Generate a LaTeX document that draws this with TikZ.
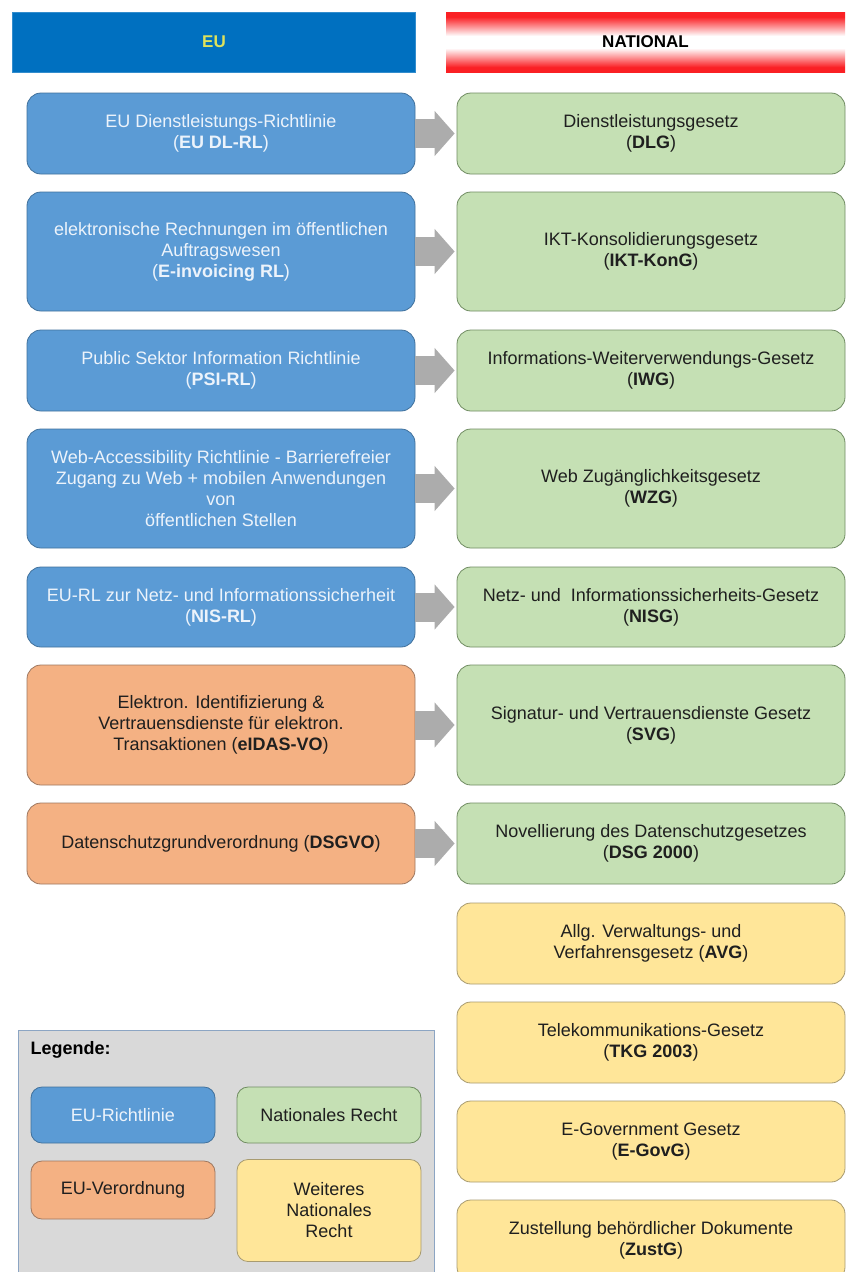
\documentclass[tikz,border=0pt]{standalone}
\usepackage{fontspec}
\setmainfont{Liberation Sans}
\usetikzlibrary{arrows.meta}

\definecolor{eublue}{RGB}{0,112,192}
\definecolor{eutext}{RGB}{222,226,92}
\definecolor{natred}{RGB}{250,32,36}
\definecolor{rlblue}{RGB}{91,155,213}
\definecolor{rlborder}{RGB}{65,113,156}
\definecolor{rltext}{RGB}{236,243,251}
\definecolor{natgreen}{RGB}{197,224,180}
\definecolor{natborder}{RGB}{112,140,98}
\definecolor{voorange}{RGB}{244,177,131}
\definecolor{voborder}{RGB}{158,120,96}
\definecolor{weityellow}{RGB}{255,230,153}
\definecolor{weitborder}{RGB}{168,155,112}
\definecolor{legendgray}{RGB}{217,217,217}
\definecolor{legendborder}{RGB}{140,165,195}

% red-white-red band for the national header
\pgfdeclareverticalshading{redwhitered}{100bp}{color(0bp)=(natred); color(29bp)=(natred);
  color(45bp)=(white); color(55bp)=(white); color(71bp)=(natred); color(100bp)=(natred)}

\tikzset{
  box/.style={rectangle, rounded corners=14pt, minimum width=388pt, align=center,
    font=\fontsize{18}{21}\selectfont, line width=0.8pt, text=black!88},
  richtlinie/.style={box, fill=rlblue, draw=rlborder, text=rltext},
  verordnung/.style={box, fill=voorange, draw=voborder},
  national/.style={box, fill=natgreen, draw=natborder},
  weiteres/.style={box, fill=weityellow, draw=weitborder},
  legbox/.style={rounded corners=11pt, minimum width=184pt, line width=0.8pt},
  head/.style={rectangle, minimum height=60pt, font=\bfseries\fontsize{17}{20}\selectfont},
  flowarrow/.style={line width=29pt, draw=gray!65, -{Triangle[width=44pt,length=20pt]}, shorten >=2pt},
}

\begin{document}
\begin{tikzpicture}[x=1pt,y=-1pt]
    % Page frame
    \useasboundingbox (0,0) rectangle (851,1272);
    \clip (0,0) rectangle (851,1272);
    \fill[white] (0,0) rectangle (851,1272);

    % Column headers
    \node[head, fill=eublue, draw=eublue!80!white, minimum width=403pt, text=eutext] (euhead) at (214,42) {EU};
    \node[head, shading=redwhitered, minimum width=399pt] (nathead) at (645.5,42) {NATIONAL};

    % EU side
    \node[richtlinie, minimum height=81pt] (eu1) at (221,133.5) {EU Dienstleistungs-Richtlinie\\(\textbf{EU DL-RL})};
    \node[richtlinie, minimum height=119pt] (eu2) at (221,251.5) {elektronische Rechnungen im öffentlichen\\Auftragswesen\\(\textbf{E-invoicing RL})};
    \node[richtlinie, minimum height=81pt] (eu3) at (221,370.5) {Public Sektor Information Richtlinie\\(\textbf{PSI-RL})};
    \node[richtlinie, minimum height=119pt] (eu4) at (221,488.5) {Web-Accessibility Richtlinie - Barrierefreier\\Zugang zu Web + mobilen Anwendungen\\von\\öffentlichen Stellen};
    \node[richtlinie, minimum height=80pt] (eu5) at (221,607) {EU-RL zur Netz- und Informationssicherheit\\(\textbf{NIS-RL})};
    \node[verordnung, minimum height=120pt] (eu6) at (221,725) {Elektron. Identifizierung \&\\Vertrauensdienste für elektron.\\Transaktionen (\textbf{eIDAS-VO})};
    \node[verordnung, minimum height=81pt] (eu7) at (221,843.5) {Datenschutzgrundverordnung (\textbf{DSGVO})};

    % National side
    \node[national, minimum height=81pt] (nat1) at (651,133.5) {Dienstleistungsgesetz\\(\textbf{DLG})};
    \node[national, minimum height=119pt] (nat2) at (651,251.5) {IKT-Konsolidierungsgesetz\\(\textbf{IKT-KonG})};
    \node[national, minimum height=81pt] (nat3) at (651,370.5) {Informations-Weiterverwendungs-Gesetz\\(\textbf{IWG})};
    \node[national, minimum height=119pt] (nat4) at (651,488.5) {Web Zugänglichkeitsgesetz\\(\textbf{WZG})};
    \node[national, minimum height=80pt] (nat5) at (651,607) {Netz- und\ \ Informationssicherheits-Gesetz\\(\textbf{NISG})};
    \node[national, minimum height=120pt] (nat6) at (651,725) {Signatur- und Vertrauensdienste Gesetz\\(\textbf{SVG})};
    \node[national, minimum height=81pt] (nat7) at (651,843.5) {Novellierung des Datenschutzgesetzes\\(\textbf{DSG 2000})};

    % Further national law
    \node[weiteres, minimum height=81pt] (avg) at (651,943.5) {Allg. Verwaltungs- und\\Verfahrensgesetz (\textbf{AVG})};
    \node[weiteres, minimum height=81pt] (tkg) at (651,1042.5) {Telekommunikations-Gesetz\\(\textbf{TKG 2003})};
    \node[weiteres, minimum height=81pt] (egovg) at (651,1141.5) {E-Government Gesetz\\(\textbf{E-GovG})};
    \node[weiteres, minimum height=81pt] (zustg) at (651,1240.5) {Zustellung behördlicher Dokumente\\(\textbf{ZustG})};

    % Arrows EU -> national
    \foreach \i in {1,...,7}
        \draw[flowarrow] (eu\i.east) -- (nat\i.west);

    % Legend
    \node[fill=legendgray, draw=legendborder, line width=0.8pt, minimum width=416pt, minimum height=262pt] (legend) at (226,1161) {};
    \node[anchor=west, font=\bfseries\fontsize{18}{21}\selectfont] (legtitle) at (27,1050) {Legende:};
    \node[richtlinie, legbox, minimum height=56pt] (legrl) at (123,1115) {EU-Richtlinie};
    \node[national, legbox, minimum height=56pt] (legnat) at (329,1115) {Nationales Recht};
    \node[verordnung, legbox, minimum height=58pt] (legvo) at (123,1190) {EU-Verordnung};
    \node[weiteres, legbox, minimum height=102pt] (legweit) at (329,1210.5) {Weiteres\\Nationales\\Recht};
\end{tikzpicture}
\end{document}
